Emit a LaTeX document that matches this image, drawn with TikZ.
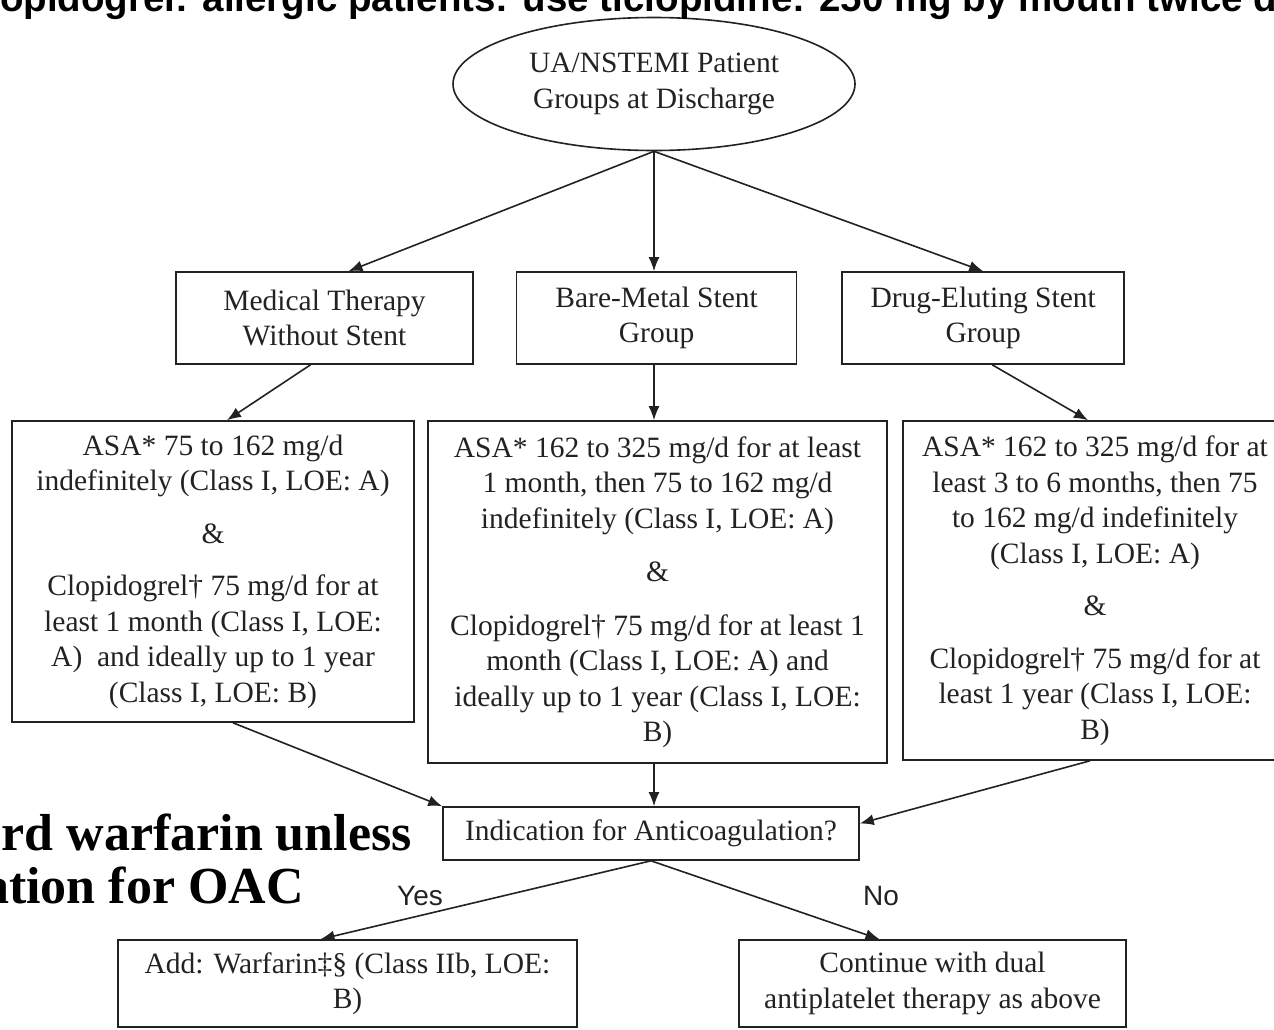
\documentclass[tikz,border=0pt]{standalone}
\usepackage{fontspec}
\setmainfont{Liberation Serif}
\newfontfamily\sansfont{Liberation Sans}
\usepackage{tikz}
\usetikzlibrary{arrows.meta,positioning,shapes.geometric}
\definecolor{ink}{HTML}{222222}

\begin{document}
\begin{tikzpicture}[x=1pt, y=-1pt, every node/.style={inner sep=2pt, text=ink},
    box/.style={draw=ink, line width=1.6pt, align=center, font=\fontsize{29.5}{35.5}\selectfont},
    link/.style={draw=ink, line width=1.6pt, -{Latex[length=14pt,width=11pt]}},
    answer/.style={font=\sansfont\fontsize{28}{32}\selectfont},
    margin/.style={inner sep=0pt, text=black, font=\bfseries\fontsize{52}{56}\selectfont} ]

    \useasboundingbox (0,0) rectangle (1274,1029);
    \clip (0,0) rectangle (1274,1029);

    \node[box, ellipse, minimum width=402pt, minimum height=133pt] (groups) at (654,84)
        {UA/NSTEMI Patient\\Groups at Discharge};

    \node[box, minimum width=297pt, minimum height=92pt] (medical) at (324.5,318)
        {Medical Therapy\\Without Stent};
    \node[box, minimum width=280pt, minimum height=92pt, right=42pt of medical] (bare)
        {Bare-Metal Stent\\Group};
    \node[box, minimum width=282pt, minimum height=92pt, right=44pt of bare] (drug)
        {Drug-Eluting Stent\\Group};

    \node[box, minimum width=402pt, minimum height=301pt] (asaMed) at (213,571.5)
        {ASA* 75 to 162 mg/d\\indefinitely (Class I, LOE: A)\\[17pt]\&\\[17pt]
         Clopidogrel† 75 mg/d for at\\least 1 month (Class I, LOE:\\A)~ and ideally up to 1 year\\(Class I, LOE: B)};
    \node[box, minimum width=459pt, minimum height=342pt] (asaBare) at (657.5,592)
        {ASA* 162 to 325 mg/d for at least\\1 month, then 75 to 162 mg/d\\indefinitely (Class I, LOE: A)\\[18pt]\&\\[18pt]
         Clopidogrel† 75 mg/d for at least 1\\month (Class I, LOE: A) and\\ideally up to 1 year (Class I, LOE:\\B)};
    \node[box, minimum width=384pt, minimum height=339pt] (asaDrug) at (1095,590.5)
        {ASA* 162 to 325 mg/d for at\\least 3 to 6 months, then 75\\to 162 mg/d indefinitely\\(Class I, LOE: A)\\[17pt]\&\\[17pt]
         Clopidogrel† 75 mg/d for at\\least 1 year (Class I, LOE:\\B)};

    \node[box, minimum width=416pt, minimum height=53pt] (anticoag) at (651,833.5)
        {Indication for Anticoagulation?};

    \node[box, minimum width=459pt, minimum height=87pt] (warf) at (347.5,983.5)
        {Add: Warfarin‡§ (Class IIb, LOE:\\B)};
    \node[box, minimum width=387pt, minimum height=87pt] (cont) at (932.5,983.5)
        {Continue with dual\\antiplatelet therapy as above};

    \node[answer] (yes) at (420,896) {Yes};
    \node[answer] (no) at (881,896) {No};

    % cut-off text round the chart
    \node[margin, anchor=base east] (oacA) at (412,850) {rd warfarin unless};
    \node[margin, anchor=base east] (oacB) at (304,903) {ation for OAC};
    \node[inner sep=0pt, text=black, anchor=base west, font=\sansfont\bfseries\fontsize{38.5}{40}\selectfont] (topnote) at (0,11)
        {opidogrel: allergic patients: use ticlopidine: 250 mg by mouth twice d};

    % split into groups
    \draw[link] (groups.south) -- ([xshift=24pt]medical.north);
    \draw[link] (groups.south) -- (groups.south |- bare.north);
    \draw[link] (groups.south) -- (drug.north);

    % therapy per group
    \draw[link] ([xshift=-14pt]medical.south) -- ([xshift=14pt]asaMed.north);
    \draw[link] (groups.south |- bare.south) -- (groups.south |- asaBare.north);
    \draw[link] ([xshift=9pt]drug.south) -- ([xshift=-7pt]asaDrug.north);

    % anticoagulation question
    \draw[link] ([xshift=20pt]asaMed.south) -- (anticoag.north west);
    \draw[link] (groups.south |- asaBare.south) -- (groups.south |- anticoag.north);
    \draw[link] ([xshift=-5pt]asaDrug.south) -- ([yshift=10pt]anticoag.east);

    % answers
    \draw[link] (anticoag.south) -- ([xshift=-27pt]warf.north);
    \draw[link] (anticoag.south) -- ([xshift=-53pt]cont.north);

\end{tikzpicture}
\end{document}
